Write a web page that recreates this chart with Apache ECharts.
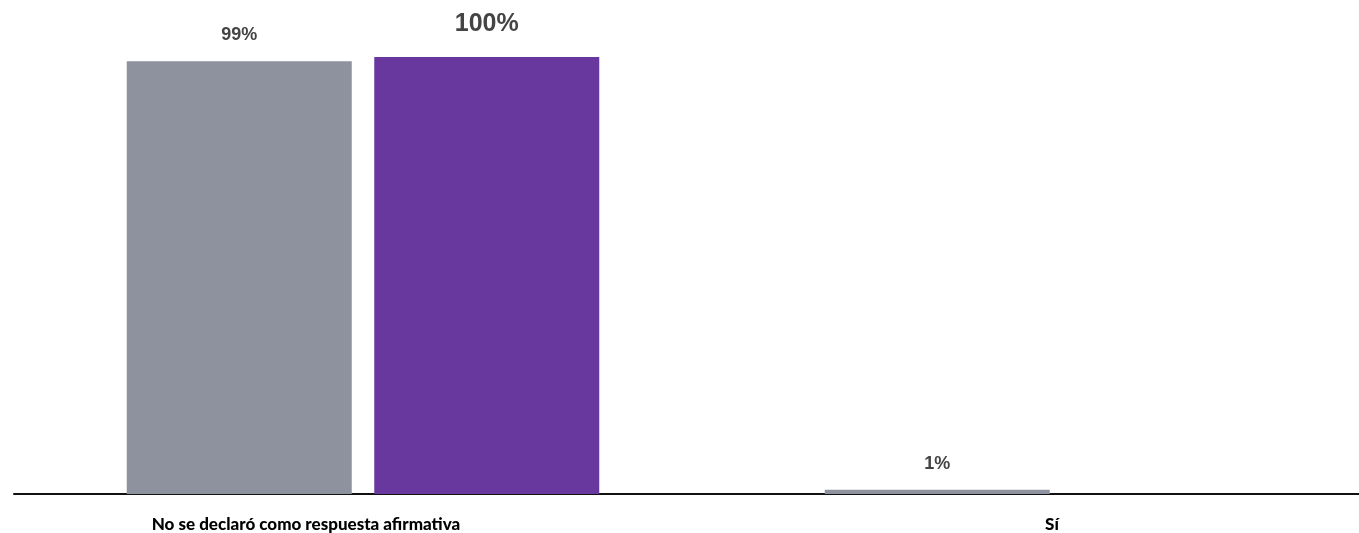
<!DOCTYPE html>
<html>
<head>
<meta charset="utf-8">
<script src="https://cdn.jsdelivr.net/npm/echarts@6/dist/echarts.min.js"></script>
<style>html,body{margin:0;padding:0;background:#fff;}#c{width:1359px;height:533px;}</style>
</head>
<body>
<div id="c"></div>
<script>
const categories = ['No se declaró como respuesta afirmativa', 'Sí'];
const seriesGray = [99, 1];
const seriesPurple = [100, 0];

const chart = echarts.init(document.getElementById('c'), null, {renderer: 'canvas'});
chart.setOption({
  animation: false,
  grid: {left: 14, right: -51, top: 57, bottom: 39, containLabel: false, outerBoundsMode: 'none'},
  xAxis: {
    type: 'category',
    data: [
      {value: categories[0], textStyle: {padding: [0, 114, 0, 0]}},
      {value: categories[1], textStyle: {padding: [0, 18, 0, 0]}}
    ],
    axisLine: {show: true, lineStyle: {color: '#111', width: 2}},
    axisTick: {show: false},
    axisLabel: {
      margin: 22,
      color: '#000',
      fontFamily: 'Lato',
      fontWeight: 900,
      fontSize: 17,
      interval: 0
    }
  },
  yAxis: {
    type: 'value', min: 0, max: 100,
    show: false,
    splitLine: {show: false}
  },
  series: [
    {
      type: 'bar', data: seriesGray, barWidth: 225, barGap: '10%',
      itemStyle: {color: '#8E929E'},
      label: {
        show: true, position: 'top', distance: 17,
        formatter: p => p.value ? p.value + '%' : '',
        fontFamily: 'Liberation Sans', fontWeight: 'bold', fontSize: 18, color: '#444'
      }
    },
    {
      type: 'bar', data: seriesPurple, barWidth: 225,
      itemStyle: {color: '#68389F'},
      label: {
        show: true, position: 'top', distance: 20,
        formatter: p => p.value ? p.value + '%' : '',
        fontFamily: 'Liberation Sans', fontWeight: 'bold', fontSize: 25, color: '#444'
      }
    }
  ]
});
</script>
</body>
</html>
